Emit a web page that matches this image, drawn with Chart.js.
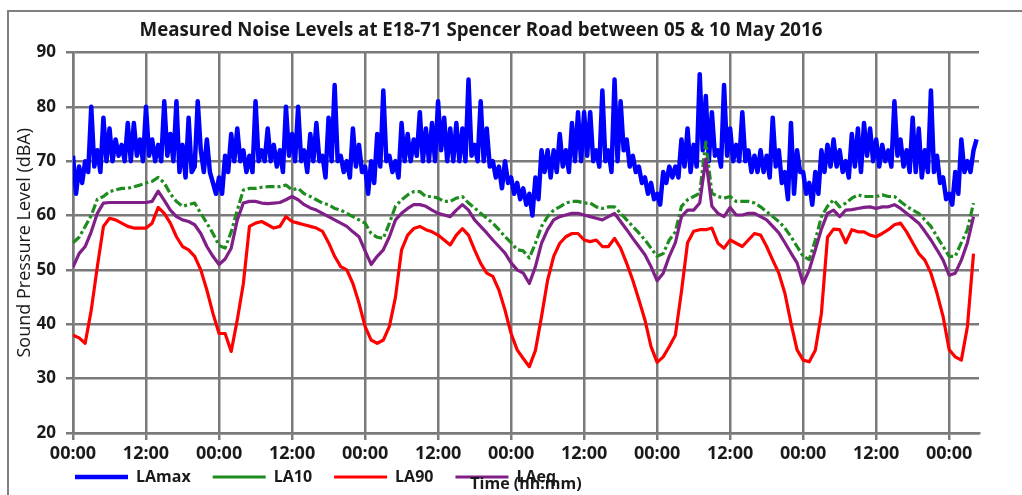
<!DOCTYPE html>
<html>
<head>
<meta charset="utf-8">
<script src="https://cdn.jsdelivr.net/npm/chart.js@4"></script>
<style>
  html, body { margin: 0; padding: 0; background: #fff; }
  #wrap { width: 1022px; height: 495px; }
</style>
</head>
<body>
<div id="wrap"><canvas id="chart" width="1022" height="495"></canvas></div>
<script>
// LAmax every half hour from 00:00 on 05 May (two values per row pair = one hour)
const laMax = [
  71, 64, 69, 66, 70, 68, 80, 69, 72, 68, 78, 70, 76, 70, 74, 71, 73, 70, 77, 70,
  77, 71, 74, 70, 80, 71, 74, 70, 73, 70, 81, 71, 75, 70, 81, 68, 73, 67, 78, 68,
  69, 81, 72, 68, 74, 68, 66, 64, 67, 64, 71, 68, 75, 70, 76, 70, 72, 68, 71, 68,
  81, 70, 72, 70, 76, 70, 73, 69, 72, 68, 80, 71, 75, 70, 80, 70, 72, 68, 75, 70,
  77, 70, 71, 67, 78, 70, 84, 70, 71, 68, 70, 67, 76, 69, 73, 68, 69, 64, 70, 66,
  75, 69, 83, 70, 71, 68, 70, 67, 77, 70, 75, 70, 74, 71, 79, 70, 76, 70, 77, 70,
  81, 72, 78, 70, 76, 70, 77, 70, 76, 70, 85, 71, 73, 70, 81, 70, 76, 69, 70, 67,
  69, 65, 70, 66, 67, 64, 66, 63, 65, 62, 64, 60, 67, 63, 72, 68, 72, 67, 72, 68,
  75, 69, 72, 68, 77, 70, 79, 70, 79, 71, 79, 70, 72, 69, 83, 70, 72, 68, 85, 70,
  81, 72, 74, 69, 71, 68, 69, 66, 67, 64, 66, 63, 64, 62, 68, 66, 69, 67, 69, 67,
  74, 69, 76, 68, 73, 69, 86, 72, 82, 70, 79, 71, 72, 69, 84, 71, 76, 70, 73, 70,
  79, 70, 72, 68, 71, 68, 72, 68, 71, 67, 78, 69, 72, 66, 68, 63, 77, 64, 72, 68,
  68, 64, 66, 62, 68, 64, 72, 68, 73, 69, 74, 69, 72, 68, 70, 67, 75, 69, 76, 68,
  77, 71, 76, 70, 74, 69, 73, 70, 72, 69, 81, 71, 74, 69, 72, 68, 78, 68, 76, 67,
  72, 68, 83, 68, 71, 66, 67, 63, 64, 62, 68, 64, 74, 68, 70, 68, 72, 74
];
// LA10, LA90 and LAeq, one value per hour
const la10 = [
  55, 56, 58, 60, 63, 63.5, 64.4, 64.7, 65, 65,
  65.3, 65.6, 66, 66.3, 67, 66, 64, 62.6, 61.7, 62,
  62.3, 60.4, 58.6, 56.7, 54.5, 54, 57, 61, 64.7, 65,
  65, 65.2, 65.3, 65.3, 65.3, 65.6, 64.7, 65, 64, 63.5,
  62.9, 62.3, 62, 61.3, 61, 60.4, 59.8, 59.2, 58.6, 56.7,
  56, 55.8, 58.6, 61.7, 62.9, 63.8, 64.4, 64.4, 63.5, 63.5,
  63.2, 62.6, 62.6, 63.2, 63.5, 62.3, 61.4, 60.4, 59.5, 58.6,
  57.4, 56.1, 55, 53.7, 53.5, 52.2, 54.9, 58, 59.8, 61,
  61.6, 62.3, 62.6, 62.6, 62.3, 62.3, 61.6, 61.3, 61.6, 61.6,
  60.4, 59.2, 58, 56.8, 55.5, 54, 52.5, 53, 55.5, 57,
  61.7, 62.9, 63.5, 64.1, 73.5, 64.1, 63.5, 63.2, 63.5, 62.6,
  62.6, 62.6, 62.3, 61.6, 60.7, 59.8, 58.9, 57.7, 56.1, 54.3,
  52.5, 51.9, 55.5, 59.8, 61.7, 62.9, 61.6, 62.3, 63.2, 63.8,
  63.5, 63.5, 63.5, 63.8, 63.5, 63.5, 62.6, 61.7, 61, 60.4,
  59.2, 58, 56.1, 54.3, 52.5, 52.5, 55, 57.4, 62.3
];
const la90 = [
  38, 37.5, 36.5, 42.6, 50.6, 58, 59.5, 59.2, 58.6, 58,
  57.7, 57.7, 57.7, 58.6, 61.5, 60.4, 58.6, 56.1, 54.3, 53.7,
  52.5, 50, 46.3, 42, 38.3, 38.3, 35, 40.8, 47.5, 58,
  58.6, 58.9, 58.3, 57.7, 58, 59.8, 58.9, 58.6, 58.3, 58,
  57.7, 57.1, 55, 52.5, 50.6, 50, 47.5, 43.9, 39.6, 37.1,
  36.5, 37.1, 39.6, 45, 53.7, 56.4, 57.6, 58, 57.4, 57,
  56.4, 55.5, 54.6, 56.4, 57.6, 56.4, 53.7, 51.2, 49.4, 48.8,
  46.3, 42.6, 38.3, 35.3, 33.7, 32.2, 35.2, 41.4, 48.1, 52.5,
  54.9, 56.1, 56.7, 56.7, 55.5, 55.2, 55.5, 54.3, 54.3, 55.8,
  54, 51.2, 48.1, 44.5, 40.8, 35.9, 33, 34, 35.9, 38,
  46, 55, 57.1, 57.4, 57.4, 57.7, 54.9, 54, 55.5, 54.9,
  54.3, 55.5, 56.7, 56.4, 54.3, 51.8, 49.4, 45.7, 40.2, 35.3,
  33.4, 33.1, 35.2, 42, 56, 57.5, 57.4, 55, 57.4, 57,
  57, 56.4, 56.1, 56.7, 57.4, 58.3, 58.6, 57, 55, 53,
  51.8, 49.4, 45.7, 41.4, 35.3, 34, 33.4, 39.6, 53
];
const laEq = [
  50.5, 53, 54.3, 57, 60.4, 62.3, 62.4, 62.4, 62.4, 62.4,
  62.4, 62.4, 62.4, 62.6, 64.5, 62.8, 61, 59.8, 59.2, 58.9,
  58.3, 56.7, 54.3, 52.5, 51, 52, 54, 59.2, 62.3, 62.6,
  62.6, 62.3, 62.2, 62.3, 62.4, 62.9, 63.5, 62.9, 62, 61.4,
  61, 60.4, 59.8, 59.2, 58.6, 58, 57, 56.1, 53.5, 51,
  52.5, 53.7, 56.1, 59.2, 60.4, 61.3, 62, 62, 61.7, 61,
  60.4, 60.1, 59.8, 61, 62, 61, 59.2, 58, 56.8, 55.5,
  54.3, 53.1, 51.3, 50, 49.4, 47.5, 50.6, 54.9, 57.4, 59.2,
  59.8, 60.1, 60.4, 60.4, 60.1, 59.8, 59.5, 59.2, 59.8, 60.4,
  58.9, 57.4, 55.8, 54.3, 52.8, 50.6, 48, 49.4, 52.5, 55,
  59.8, 61, 61, 62.3, 70.4, 61.7, 60.4, 59.8, 61.5, 60.1,
  60.1, 60.4, 60.4, 59.8, 59.2, 58, 56.8, 55, 53.1, 51.3,
  47.5, 50, 53.7, 57.5, 60.4, 61, 59.8, 61, 61.1, 61.3,
  61.5, 61.6, 61.3, 61.6, 61.6, 62, 61.3, 60.4, 59.5, 58.6,
  57.1, 55.5, 53.7, 51.8, 49, 49.4, 51.8, 55, 59.8
];
const tickLabels = ['00:00', '12:00'];

const ink = '#1a1a1a';
const gridGrey = '#7a7a7a';
const legendGap = 22;

Chart.defaults.font.family = '"Open Sans", sans-serif';
Chart.defaults.color = ink;

// value i sits at i * step hours
function points(values, step) {
  return values.map((v, i) => ({ x: i * step, y: v }));
}

// outer frame, legend/title placement and the x axis caption
const chartFrame = {
  id: 'chartFrame',
  afterLayout(chart) {
    const lg = chart.legend;
    lg.left = 75 - legendGap;
    lg.top = 447;
    lg.bottom = 495;
    chart.titleBlock.left = -30;
    chart.titleBlock.right = 992;
  },
  beforeDraw(chart) {
    const ctx = chart.ctx;
    ctx.save();
    ctx.strokeStyle = '#7f7f7f';
    ctx.lineWidth = 2;
    ctx.beginPath();
    ctx.moveTo(8, 495);
    ctx.lineTo(8, 11);
    ctx.lineTo(1022, 11);
    ctx.stroke();
    ctx.restore();
  },
  afterDraw(chart) {
    const ctx = chart.ctx;
    ctx.save();
    ctx.font = 'bold 16px "Open Sans"';
    ctx.fillStyle = ink;
    ctx.textAlign = 'center';
    ctx.textBaseline = 'middle';
    ctx.fillText('Time (hh:mm)', 526, 484);
    ctx.restore();
  }
};

const ctx = document.getElementById('chart').getContext('2d');
new Chart(ctx, {
  type: 'line',
  data: {
    datasets: [
      {
        label: 'LAmax',
        data: points(laMax, 0.5),
        borderColor: '#0000ff',
        backgroundColor: '#0000ff',
        borderWidth: 4.5,
        order: 4
      },
      {
        label: 'LA10',
        data: points(la10, 1),
        borderColor: '#1f8c1f',
        backgroundColor: '#1f8c1f',
        borderWidth: 3.2,
        borderDash: [9, 3, 3, 3],
        order: 3
      },
      {
        label: 'LA90',
        data: points(la90, 1),
        borderColor: '#ff0000',
        backgroundColor: '#ff0000',
        borderWidth: 3.2,
        order: 2
      },
      {
        label: 'LAeq',
        data: points(laEq, 1),
        borderColor: '#7f1f87',
        backgroundColor: '#7f1f87',
        borderWidth: 3.2,
        order: 1
      }
    ]
  },
  options: {
    responsive: false,
    animation: false,
    events: [],
    layout: { padding: { left: 0, right: 43, top: 0, bottom: 0 } },
    elements: {
      point: { radius: 0 },
      line: { tension: 0, borderJoinStyle: 'round', fill: false }
    },
    plugins: {
      title: {
        display: true,
        text: 'Measured Noise Levels at E18-71 Spencer Road between 05 & 10 May 2016',
        color: ink,
        font: { size: 18.7, weight: 'bold' },
        padding: { top: 19, bottom: 11 }
      },
      legend: {
        position: 'bottom',
        align: 'start',
        maxHeight: 10,
        labels: {
          usePointStyle: true,
          pointStyle: 'line',
          pointStyleWidth: 53,
          padding: legendGap,
          color: ink,
          font: { size: 16, weight: 'bold' },
          sort: (a, b) => a.datasetIndex - b.datasetIndex
        }
      },
      tooltip: { enabled: false }
    },
    scales: {
      x: {
        type: 'linear',
        min: 0,
        max: 148.9,
        afterFit(scale) { scale.height = 52; },
        grid: { color: gridGrey, lineWidth: 2.5, tickLength: 7 },
        border: { color: gridGrey, width: 2.5 },
        ticks: {
          stepSize: 12,
          includeBounds: false,
          autoSkip: false,
          maxRotation: 0,
          padding: 3,
          color: ink,
          font: { size: 18, weight: 'bold' },
          callback: (v) => tickLabels[(v / 12) % 2]
        }
      },
      y: {
        min: 20,
        max: 90,
        afterFit(scale) { scale.width = 73; },
        grid: { color: gridGrey, lineWidth: 2.5, tickLength: 7 },
        border: { color: gridGrey, width: 2.5 },
        ticks: {
          stepSize: 10,
          padding: 10,
          color: ink,
          font: { size: 17, weight: 'bold' }
        },
        title: {
          display: true,
          text: 'Sound Pressure Level (dBA)',
          color: ink,
          font: { size: 18 },
          padding: { top: 14, bottom: 0 }
        }
      }
    }
  },
  plugins: [chartFrame]
});
</script>
</body>
</html>
